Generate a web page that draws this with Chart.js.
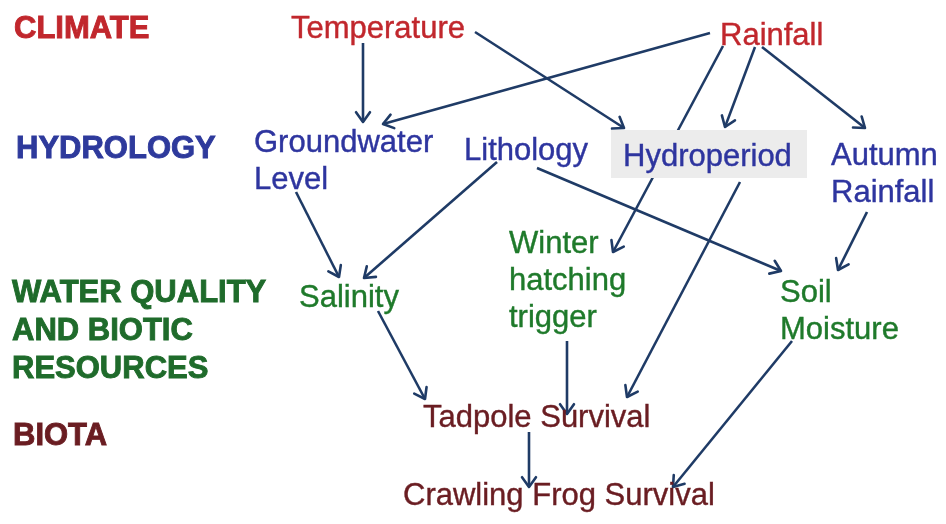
<!DOCTYPE html>
<html>
<head>
<meta charset="utf-8">
<script src="https://cdn.jsdelivr.net/npm/chart.js@4/dist/chart.umd.min.js"></script>
<style>
html,body{margin:0;padding:0;background:#ffffff;}
#wrap{width:946px;height:524px;position:relative;}
</style>
</head>
<body>
<div id="wrap"><canvas id="c" width="946" height="524"></canvas></div>
<script>
// ---- Level (row) labels ----
const levelLabels = ['CLIMATE', 'HYDROLOGY', 'WATER QUALITY\nAND BIOTIC\nRESOURCES', 'BIOTA'];
const levelX = [14, 16, 12, 13];
const levelY = [38, 158, 302, 445];
const levelColors = ['#c1272d', '#2e3a9c', '#1f6b2b', '#6a1d22'];

// ---- Nodes ----
const nodeLabels = ['Temperature', 'Rainfall', 'Groundwater\nLevel', 'Lithology', 'Hydroperiod',
  'Autumn\nRainfall', 'Salinity', 'Winter\nhatching\ntrigger', 'Soil\nMoisture',
  'Tadpole Survival', 'Crawling Frog Survival'];
const nodeX = [291, 720, 254, 464, 623, 831, 299, 509, 780, 423, 403];
const nodeY = [38, 45, 152, 160, 166, 165, 307, 253, 302, 427, 505];
const nodeLevel = [0, 0, 1, 1, 1, 1, 2, 2, 2, 3, 3];

// Highlight box behind "Hydroperiod" (x0, y0, x1, y1)
const boxX = [611, 807];
const boxY = [130, 178];

// ---- Edges (start -> arrow tip) ----
const edgeNames = ['Temperature→Groundwater', 'Rainfall→Groundwater', 'Temperature→Hydroperiod',
  'Rainfall→Winter trigger', 'Rainfall→Hydroperiod', 'Rainfall→Autumn Rainfall',
  'Groundwater→Salinity', 'Lithology→Salinity', 'Lithology→Soil Moisture',
  'Hydroperiod→Tadpole', 'Autumn Rainfall→Soil Moisture', 'Salinity→Tadpole',
  'Winter trigger→Tadpole', 'Tadpole→Crawling Frog', 'Soil Moisture→Crawling Frog'];
const edgeX0 = [363, 710, 475, 723, 755, 762, 296, 497, 537, 740, 867, 378, 567, 529, 792];
const edgeY0 = [43, 33, 32, 46, 47, 47, 192, 162, 168, 182, 212, 311, 341, 432, 341];
const edgeX1 = [363, 383, 624, 613, 725, 865, 339, 364, 781, 627, 838, 425, 567, 529, 673];
const edgeY1 = [122, 124, 128, 252, 127, 128, 277, 278, 271, 397, 270, 399, 414, 487, 487];

const edgeColor = '#1f3b66';
const nodeFont = '31px "Liberation Sans", Arial, sans-serif';
const levelFont = 'bold 31px "Liberation Sans", Arial, sans-serif';

const datasets = edgeNames.map((name, i) => ({
  label: name,
  data: [{x: edgeX0[i], y: edgeY0[i]}, {x: edgeX1[i], y: edgeY1[i]}],
  showLine: true,
  borderColor: edgeColor,
  borderWidth: 2.6,
  pointRadius: 0,
  fill: false
}));

const diagramPlugin = {
  id: 'diagram',
  afterDatasetsDraw(chart) {
    const ctx = chart.ctx;
    const xs = chart.scales.x, ys = chart.scales.y;
    const px = v => xs.getPixelForValue(v);
    const py = v => ys.getPixelForValue(v);
    ctx.save();
    // arrowheads
    ctx.strokeStyle = edgeColor;
    ctx.lineWidth = 2.6;
    ctx.lineCap = 'round';
    ctx.lineJoin = 'round';
    for (let i = 0; i < edgeNames.length; i++) {
      const x0 = px(edgeX0[i]), y0 = py(edgeY0[i]);
      const x1 = px(edgeX1[i]), y1 = py(edgeY1[i]);
      const a = Math.atan2(y1 - y0, x1 - x0);
      const L = 12, w = 0.62;
      ctx.beginPath();
      ctx.moveTo(x1 - L * Math.cos(a - w), y1 - L * Math.sin(a - w));
      ctx.lineTo(x1, y1);
      ctx.lineTo(x1 - L * Math.cos(a + w), y1 - L * Math.sin(a + w));
      ctx.stroke();
    }
    // highlight box
    ctx.fillStyle = '#ececec';
    ctx.fillRect(px(boxX[0]), py(boxY[0]), px(boxX[1]) - px(boxX[0]), py(boxY[1]) - py(boxY[0]));
    // level labels
    ctx.textAlign = 'left';
    ctx.textBaseline = 'alphabetic';
    ctx.font = levelFont;
    ctx.lineJoin = 'miter';
    ctx.lineWidth = 0.9;
    for (let i = 0; i < levelLabels.length; i++) {
      ctx.fillStyle = levelColors[i];
      ctx.strokeStyle = levelColors[i];
      levelLabels[i].split('\n').forEach((ln, k) => {
        ctx.fillText(ln, px(levelX[i]), py(levelY[i]) + k * 38);
        ctx.strokeText(ln, px(levelX[i]), py(levelY[i]) + k * 38);
      });
    }
    // node labels
    const nodeColors = ['#c1272d', '#2e359f', '#1f7a2b', '#6a1d22'];
    ctx.font = nodeFont;
    ctx.lineWidth = 0.4;
    for (let i = 0; i < nodeLabels.length; i++) {
      ctx.fillStyle = nodeColors[nodeLevel[i]];
      ctx.strokeStyle = nodeColors[nodeLevel[i]];
      nodeLabels[i].split('\n').forEach((ln, k) => {
        ctx.fillText(ln, px(nodeX[i]), py(nodeY[i]) + k * 37);
        ctx.strokeText(ln, px(nodeX[i]), py(nodeY[i]) + k * 37);
      });
    }
    ctx.restore();
  }
};

new Chart(document.getElementById('c'), {
  type: 'scatter',
  data: { datasets },
  options: {
    responsive: false,
    animation: false,
    layout: { padding: 0 },
    plugins: { legend: { display: false }, tooltip: { enabled: false }, title: { display: false } },
    scales: {
      x: { type: 'linear', min: 0, max: 946, display: false },
      y: { type: 'linear', min: 0, max: 524, reverse: true, display: false }
    }
  },
  plugins: [diagramPlugin]
});
</script>
</body>
</html>
